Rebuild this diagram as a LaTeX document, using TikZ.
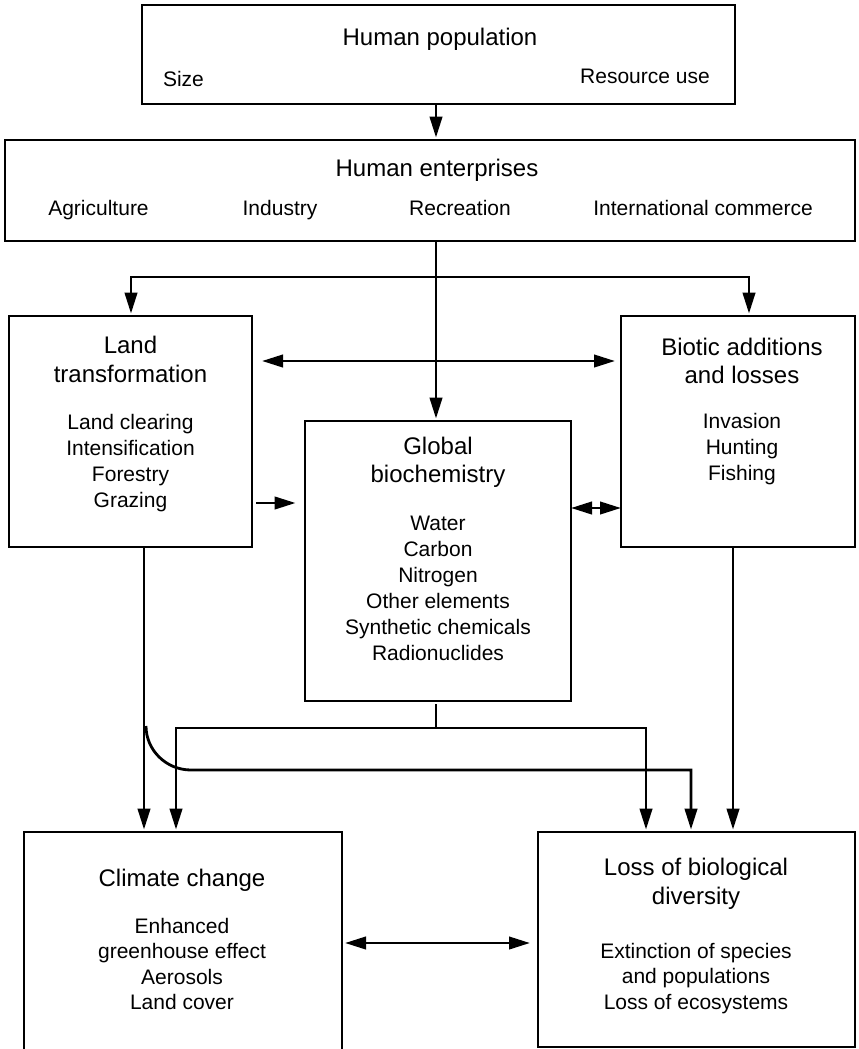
\documentclass[tikz,border=0pt]{standalone}
\usepackage{fontspec}
\setmainfont{Liberation Sans}
\usetikzlibrary{arrows.meta,calc}
\begin{document}
\begin{tikzpicture}[x=0.5pt,y=-0.5pt,
  line width=1.4pt,
  box/.style={draw,rectangle,inner sep=0pt,outer sep=0pt},
  tt/.style={font=\fontsize{12}{14.5}\selectfont,anchor=base,inner sep=0pt},
  bd/.style={font=\fontsize{10.5}{13}\selectfont,anchor=base,inner sep=0pt},
  tip/.tip={Triangle[length=10.5pt,width=6.2pt]},
  arr/.style={-tip,shorten >=1.2pt},
  darr/.style={tip-tip},
]
\clip (0,0) rectangle (858,1049);
% boxes
\node[box,minimum width=296.5pt,minimum height=49.5pt] (h1) at (438.5,54.5) {};
\node[box,minimum width=425pt,minimum height=50.5pt] (h2) at (430,190.5) {};
\node[box,minimum width=121.5pt,minimum height=115.5pt] (land) at (130.5,431.5) {};
\node[box,minimum width=117pt,minimum height=115.5pt] (bio) at (738,431.5) {};
\node[box,minimum width=133pt,minimum height=140pt] (gl) at (438,561) {};
\node[box,minimum width=159pt,minimum height=119pt] (cl) at (183,951) {};
\node[box,minimum width=158.5pt,minimum height=107.5pt] (lo) at (696.5,939.5) {};
% texts
\node[tt] (t1) at (440,46) {Human population};
\node[bd] (t2) at (183.5,86) {Size};
\node[bd] (t3) at (645,83) {Resource use};
\node[tt] (t4) at (437,176) {Human enterprises};
\node[bd] (t5) at (98.5,215) {Agriculture};
\node[bd] (t6) at (280,215) {Industry};
\node[bd] (t7) at (460,215) {Recreation};
\node[bd] (t8) at (703,215) {International commerce};
\node[tt] (l1) at (130.5,353) {Land};
\node[tt] (l2) at (130.5,382) {transformation};
\node[bd] (l3) at (130.5,429.5) {Land clearing};
\node[bd] (l4) at (130.5,455.5) {Intensification};
\node[bd] (l5) at (130.5,481.5) {Forestry};
\node[bd] (l6) at (130.5,507.5) {Grazing};
\node[tt] (b1) at (742,355) {Biotic additions};
\node[tt] (b2) at (742,383) {and losses};
\node[bd] (b3) at (742,428.5) {Invasion};
\node[bd] (b4) at (742,454.5) {Hunting};
\node[bd] (b5) at (742,480.5) {Fishing};
\node[tt] (g1) at (438,454) {Global};
\node[tt] (g2) at (438,482.5) {biochemistry};
\node[bd] (g3) at (438,530) {Water};
\node[bd] (g4) at (438,556) {Carbon};
\node[bd] (g5) at (438,582) {Nitrogen};
\node[bd] (g6) at (438,608) {Other elements};
\node[bd] (g7) at (438,634) {Synthetic chemicals};
\node[bd] (g8) at (438,660) {Radionuclides};
\node[tt] (c1) at (182,886) {Climate change};
\node[bd] (c2) at (182,933) {Enhanced};
\node[bd] (c3) at (182,958.5) {greenhouse effect};
\node[bd] (c4) at (182,984) {Aerosols};
\node[bd] (c5) at (182,1009.5) {Land cover};
\node[tt] (o1) at (696,875) {Loss of biological};
\node[tt] (o2) at (696,904) {diversity};
\node[bd] (o3) at (696,958) {Extinction of species};
\node[bd] (o4) at (696,983.5) {and populations};
\node[bd] (o5) at (696,1009) {Loss of ecosystems};
% connectors
\coordinate (a1) at ($(h1.south)+(-2.5,0)$);
\draw[arr] (a1) -- (a1 |- h2.north);
\coordinate (a2) at ($(gl.north)+(-2,0)$);
\draw[arr] (a2 |- h2.south) -- (a2);
\coordinate (bt) at ($(h2.south)+(6,36)$);
\coordinate (lin) at ($(land.north)+(0.5,0)$);
\coordinate (bin) at ($(bio.north)+(11,0)$);
\draw[arr] (bt) -| (lin);
\draw[arr] (bt) -| (bin);
\coordinate (d1a) at ($(land.north east)+(10,45)$);
\coordinate (d1b) at ($(bio.north west)+(-6,45)$);
\draw[darr] (d1a) -- (d1b);
\coordinate (e1) at ($(land.north east)+(4,187)$);
\draw[arr] (e1) -- ($(gl.west |- e1)+(-7,0)$);
\coordinate (e2) at ($(gl.north east)+(0,87)$);
\draw[darr] (e2) -- (bio.west |- e2);
\coordinate (g0) at ($(gl.south)+(-2,3)$);
\coordinate (gj) at ($(gl.south)+(-2,27)$);
\draw (g0) -- (gj);
\coordinate (cin2) at ($(cl.north)+(-7,0)$);
\coordinate (lin1) at ($(lo.north)+(-50.5,0)$);
\draw[arr] (gj) -| (cin2);
\draw[arr] (gj) -| (lin1);
\coordinate (l0) at ($(land.south)+(13.5,0)$);
\coordinate (cin1) at ($(cl.north)+(-39,0)$);
\draw[arr] (l0) -- (cin1);
\coordinate (lc) at ($(land.south)+(15.5,179)$);
\coordinate (cv) at ($(lc)+(45,44)$);
\coordinate (lin2) at ($(lo.north)+(-5.5,0)$);
\draw[arr] (lc) .. controls ($(lc)+(0,24)$) and ($(cv)+(-25,0)$) .. (cv) -| (lin2);
\draw[arr] ($(bio.south)+(-5,0)$) -- ($(lo.north)+(36.5,0)$);
\coordinate (e3) at ($(cl.north east)+(3,111)$);
\draw[darr] (e3) -- ($(lo.west |- e3)+(-8,0)$);
\end{tikzpicture}
\end{document}
